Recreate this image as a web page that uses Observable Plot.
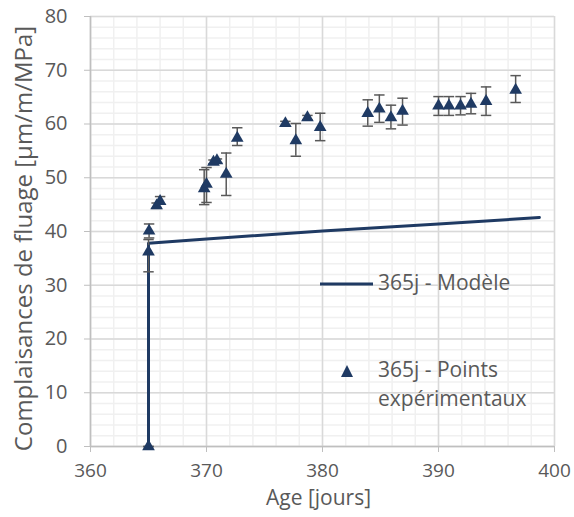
<!DOCTYPE html>
<html>
<head>
<meta charset="utf-8">
<script src="https://cdn.jsdelivr.net/npm/d3@7"></script>
<script src="https://cdn.jsdelivr.net/npm/@observablehq/plot@0.6"></script>
<style>
  html, body { margin: 0; padding: 0; background: #fff; }
  #wrap { position: relative; width: 574px; height: 517px; font-family: "Open Sans", sans-serif; }
  .leg { position: absolute; color: #595959; font-size: 21px; line-height: 29px; white-space: nowrap; }
</style>
</head>
<body>
<div id="wrap"></div>
<script>
// Experimental points (365j)
const ages   = [365.0, 365.0, 365.05, 365.7, 366.0, 369.8, 370.0, 370.6, 370.9, 371.7, 372.65, 376.8, 377.7, 378.7, 379.8, 383.9, 384.9, 385.9, 386.9, 390.0, 390.9, 391.9, 392.8, 394.1, 396.65];
const values = [0.0, 36.2, 40.1, 44.8, 45.6, 48.0, 48.8, 52.9, 53.2, 50.7, 57.4, 60.1, 56.9, 61.2, 59.4, 62.0, 62.8, 61.2, 62.4, 63.4, 63.4, 63.4, 63.7, 64.2, 66.3];
const errLow = [0.0, 32.5, 38.8, 44.3, 45.1, 45.0, 45.4, 52.6, 52.8, 46.7, 56.0, 59.7, 54.0, 60.8, 56.9, 59.6, 60.3, 59.1, 59.8, 61.6, 61.6, 61.7, 61.9, 61.6, 64.0];
const errHigh= [0.0, 38.5, 41.4, 45.3, 46.5, 51.5, 51.9, 53.3, 53.5, 54.6, 59.3, 60.5, 60.1, 61.6, 62.0, 64.5, 65.4, 63.5, 64.8, 65.1, 65.1, 65.1, 65.7, 66.9, 69.0];

// Model (365j)
const modelAge = [365, 365, 370, 380, 390, 398.7];
const modelVal = [0, 37.8, 38.6, 40.1, 41.4, 42.6];

// Axis ticks
const xTicks = [360, 370, 380, 390, 400];
const yTicks = [0, 10, 20, 30, 40, 50, 60, 70, 80];
const xMinor = d3.range(360, 401, 2);
const yMinor = d3.range(0, 81, 2);

const xLabel = "Age [jours]";
const yLabel = "Complaisances de fluage [µm/m/MPa]";
const legModel = "365j - Modèle";
const legPts1 = "365j - Points";
const legPts2 = "expérimentaux";

const pts = ages.map((a, i) => ({x: a, y: values[i], lo: errLow[i], hi: errHigh[i]}));
const model = modelAge.map((a, i) => ({x: a, y: modelVal[i]}));
const capHalf = 0.45;

const navy = "#1f3a63";
const grey = "#595959";

const chart = Plot.plot({
  width: 574,
  height: 517,
  marginLeft: 90,
  marginRight: 20,
  marginTop: 16,
  marginBottom: 71,
  style: {fontFamily: "Open Sans, sans-serif", fontSize: "19px", color: grey, background: "#fff", overflow: "visible"},
  x: {domain: [360, 400], label: null},
  y: {domain: [0, 80], label: null},
  marks: [
    Plot.gridX(xMinor, {stroke: "#f0f0f0", strokeOpacity: 1, strokeWidth: 1.5}),
    Plot.gridY(yMinor, {stroke: "#f0f0f0", strokeOpacity: 1, strokeWidth: 1.5}),
    Plot.gridX(xTicks, {stroke: "#d9d9d9", strokeOpacity: 1, strokeWidth: 1.5}),
    Plot.gridY(yTicks, {stroke: "#d9d9d9", strokeOpacity: 1, strokeWidth: 1.5}),
    Plot.axisX({ticks: xTicks, tickSize: 6, tickPadding: 11, stroke: "#bfbfbf", fill: grey, fontSize: 19, label: null}),
    Plot.axisY({ticks: yTicks, tickSize: 6, tickPadding: 17, stroke: "#bfbfbf", fill: grey, fontSize: 20, label: null}),
    Plot.ruleY([0], {stroke: "#bfbfbf", strokeWidth: 1.5}),
    Plot.ruleX([360], {stroke: "#bfbfbf", strokeWidth: 1.5}),
    Plot.line(model, {x: "x", y: "y", stroke: navy, strokeWidth: 3}),
    Plot.ruleX(pts, {x: "x", y1: "lo", y2: "hi", stroke: grey, strokeWidth: 1.5}),
    Plot.link(pts, {x1: d => d.x - capHalf, x2: d => d.x + capHalf, y1: "lo", y2: "lo", stroke: grey, strokeWidth: 1.5}),
    Plot.link(pts, {x1: d => d.x - capHalf, x2: d => d.x + capHalf, y1: "hi", y2: "hi", stroke: grey, strokeWidth: 1.5}),
    Plot.dot(pts, {x: "x", y: "y", symbol: "triangle", r: 4.7, fill: navy, stroke: null}),
    Plot.text([xLabel], {frameAnchor: "bottom", textAnchor: "middle", dx: -4, dy: 58, fontSize: 21, fill: grey}),
    Plot.text([yLabel], {frameAnchor: "left", textAnchor: "middle", rotate: -90, dx: -66, dy: 7, fontSize: 24, fill: grey})
  ]
});

const wrap = document.getElementById("wrap");
wrap.appendChild(chart);

// Legend (inside plot area, no background)
const leg = document.createElement("div");
leg.innerHTML = `
  <svg style="position:absolute;left:0;top:0;overflow:visible" width="574" height="517">
    <line x1="320" x2="373" y1="284" y2="284" stroke="${navy}" stroke-width="3"/>
    <path d="M347,365 L353,377 L341,377 Z" fill="${navy}"/>
  </svg>
  <div class="leg" style="left:378px;top:268px">${legModel}</div>
  <div class="leg" style="left:378px;top:355px">${legPts1}<br>${legPts2}</div>`;
leg.style.position = "absolute";
leg.style.left = "0"; leg.style.top = "0";
wrap.appendChild(leg);
</script>
</body>
</html>
